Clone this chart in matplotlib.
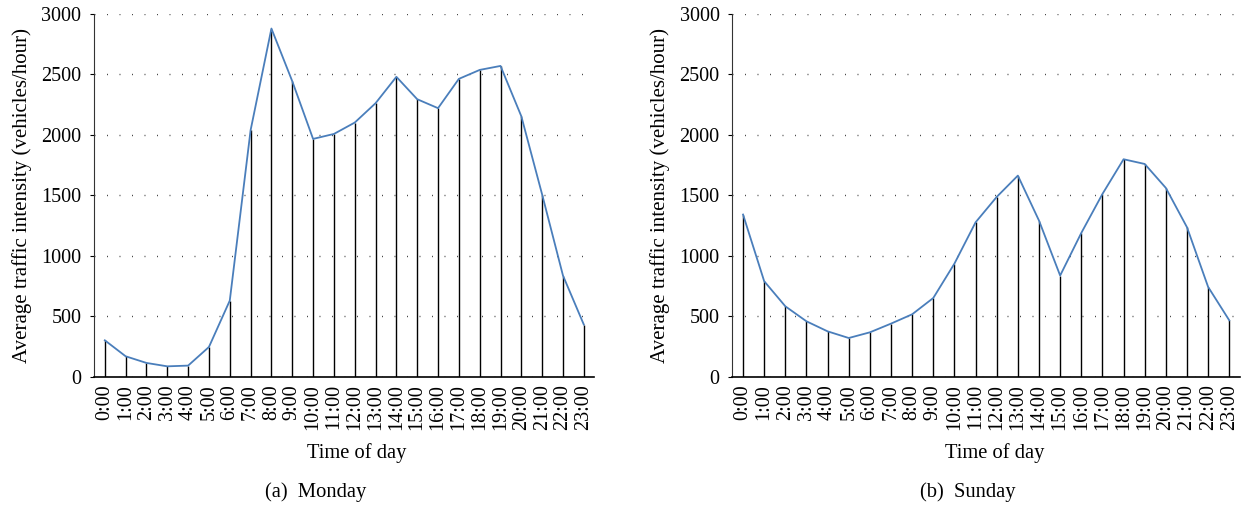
import numpy as np
import matplotlib.pyplot as plt

plt.rcParams['font.family'] = ['Liberation Serif', 'DejaVu Serif']

hours = ['%d:00' % h for h in range(24)]

monday = [303, 171, 116, 88, 94, 248, 631, 2039, 2879, 2444, 1967, 2008,
          2102, 2262, 2480, 2295, 2221, 2463, 2537, 2570, 2154, 1507, 838, 433]
sunday = [1342, 791, 584, 460, 377, 322, 369, 441, 518, 653, 937, 1278,
          1488, 1664, 1292, 838, 1190, 1512, 1799, 1760, 1562, 1237, 744, 468]

captions = ['(a)  Monday', '(b)  Sunday']
ylabel = 'Average traffic intensity (vehicles/hour)'
xlabel = 'Time of day'

fig = plt.figure(figsize=(12.6, 5.05), dpi=100)
ax1 = fig.add_axes([0.0746, 0.2535, 0.397, 0.719])
ax2 = fig.add_axes([0.581, 0.2535, 0.403, 0.719])

fs = 14.5
x = np.arange(len(hours))
panels = [(ax1, monday, 0.526, -0.124), (ax2, sunday, 0.518, -0.122)]
for ax, vals, xl, yl in panels:
    ax.vlines(x, 0, vals, colors='black', linewidth=1.0, zorder=2)
    ax.plot(x, vals, color='#4a7ebb', linewidth=1.3, zorder=3)
    ax.set_xlim(-0.52, 23.5)
    ax.set_ylim(0, 3000)
    ax.set_yticks(np.arange(0, 3001, 500))
    ax.set_xticks(x)
    ax.set_xticklabels(hours, rotation=90, fontsize=fs)
    ax.tick_params(axis='y', labelsize=fs, length=3, width=0.8, direction='out', pad=6)
    ax.tick_params(axis='x', length=0, pad=5)
    ax.grid(axis='y', color='#444444', linestyle=(0, (0.7, 8.3)), linewidth=1.0)
    ax.set_axisbelow(True)
    for s in ['top', 'right']:
        ax.spines[s].set_visible(False)
    ax.spines['left'].set_color('#333333')
    ax.spines['bottom'].set_linewidth(1.2)
    ax.set_ylabel(ylabel, fontsize=15)
    ax.yaxis.set_label_coords(yl, 0.5)
    ax.set_xlabel(xlabel, fontsize=14.8)
    ax.xaxis.set_label_coords(xl, -0.182)

fig.text(316 / 1260, 1 - 492 / 505, captions[0], ha='center', va='center', fontsize=14.8)
fig.text(968 / 1260, 1 - 492 / 505, captions[1], ha='center', va='center', fontsize=14.8)

fig.savefig('out.png', dpi=100)
